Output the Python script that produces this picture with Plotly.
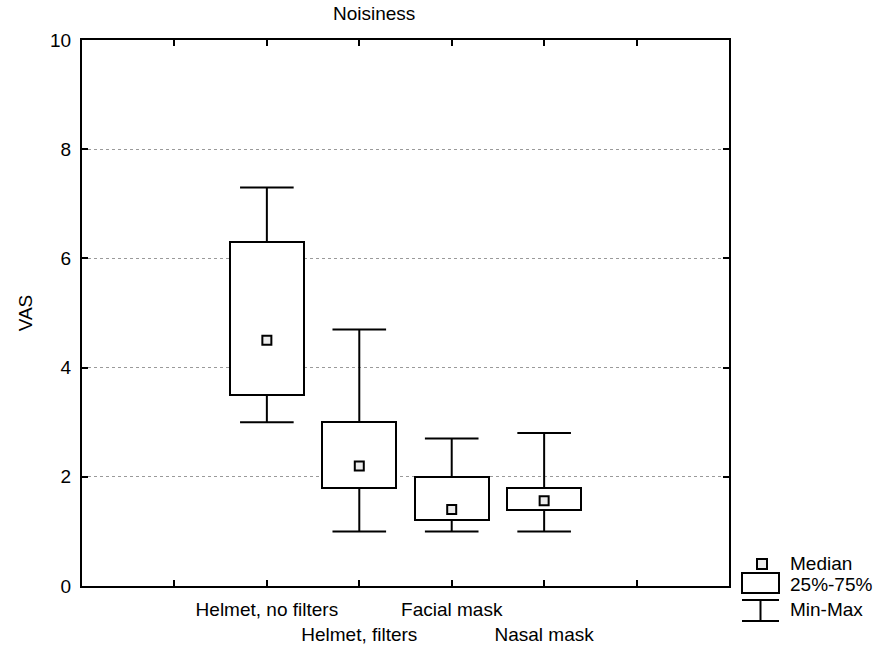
import plotly.graph_objects as go

categories = ["Helmet, no filters", "Helmet, filters", "Facial mask", "Nasal mask"]
positions = [2, 3, 4, 5]
vmin = [3.0, 1.0, 1.0, 1.0]
q1 = [3.5, 1.8, 1.2, 1.4]
median = [4.5, 2.2, 1.4, 1.56]
q3 = [6.3, 3.0, 2.0, 1.8]
vmax = [7.3, 4.7, 2.7, 2.8]
y_ticks = [0, 2, 4, 6, 8, 10]
x_ticks = [1, 2, 3, 4, 5, 6]

BOX_W = 0.8
CAP_HW = 0.29
FONT = "Liberation Sans, Arial, sans-serif"
FS = 19

fig = go.Figure()

# 25%-75% boxes
fig.add_trace(go.Bar(
    x=positions, y=[b - a for a, b in zip(q1, q3)], base=q1, width=BOX_W,
    marker=dict(color="white", line=dict(color="black", width=2)),
    showlegend=False, hoverinfo="skip"))

# whiskers
wx, wy = [], []
for p, lo, a, b, hi in zip(positions, vmin, q1, q3, vmax):
    wx += [p, p, None, p, p, None, p - CAP_HW, p + CAP_HW, None, p - CAP_HW, p + CAP_HW, None]
    wy += [b, hi, None, lo, a, None, hi, hi, None, lo, lo, None]
fig.add_trace(go.Scatter(x=wx, y=wy, mode="lines",
                         line=dict(color="black", width=2),
                         showlegend=False, hoverinfo="skip"))

# medians
fig.add_trace(go.Scatter(x=positions, y=median, mode="markers",
                         marker=dict(symbol="square", size=9, color="#ececec",
                                     line=dict(color="black", width=2)),
                         showlegend=False))

ticktext = []
for i, v in enumerate(x_ticks):
    if v in positions:
        idx = positions.index(v)
        ticktext.append(categories[idx] if idx % 2 == 0 else "<br>" + categories[idx])
    else:
        ticktext.append("")

fig.update_xaxes(range=[0, 7], tickvals=x_ticks, ticktext=ticktext, tickangle=0,
                 automargin=False, ticklabelstandoff=5,
                 ticks="inside", ticklen=6, tickwidth=2, tickcolor="black",
                 showline=True, linecolor="black", linewidth=2, mirror="ticks",
                 showgrid=False, zeroline=False,
                 tickfont=dict(family=FONT, size=FS, color="black"))
fig.update_yaxes(range=[0, 10], tickvals=y_ticks, automargin=False, ticklabelstandoff=5,
                 ticks="inside", ticklen=6, tickwidth=2, tickcolor="black",
                 showline=True, linecolor="black", linewidth=2, mirror="ticks",
                 showgrid=True, gridcolor="#9a9a9a", griddash="dot", gridwidth=1,
                 zeroline=False,
                 title=dict(text="VAS", font=dict(family=FONT, size=FS, color="black"), standoff=12),
                 tickfont=dict(family=FONT, size=FS, color="black"))

# page-pixel -> paper helpers
def px(xp):
    return (xp - 82) / 647

def py(yp):
    return (586 - yp) / 546

# title
fig.add_annotation(text="Noisiness", xref="paper", yref="paper",
                   x=px(374), y=py(14), showarrow=False,
                   font=dict(family=FONT, size=FS, color="black"),
                   xanchor="center", yanchor="middle")

# custom legend
shapes = []
shapes.append(dict(type="rect", xref="paper", yref="paper",
                   x0=px(757), x1=px(767), y0=py(569), y1=py(559),
                   line=dict(color="black", width=2), fillcolor="#ececec"))
shapes.append(dict(type="rect", xref="paper", yref="paper",
                   x0=px(742), x1=px(779), y0=py(593), y1=py(573),
                   line=dict(color="black", width=2), fillcolor="white"))
shapes.append(dict(type="line", xref="paper", yref="paper",
                   x0=px(742), x1=px(779), y0=py(600), y1=py(600),
                   line=dict(color="black", width=2)))
shapes.append(dict(type="line", xref="paper", yref="paper",
                   x0=px(742), x1=px(779), y0=py(621), y1=py(621),
                   line=dict(color="black", width=2)))
shapes.append(dict(type="line", xref="paper", yref="paper",
                   x0=px(760.5), x1=px(760.5), y0=py(600), y1=py(621),
                   line=dict(color="black", width=2)))
fig.update_layout(shapes=shapes)

for txt, yy in [("Median", 563), ("25%-75%", 584), ("Min-Max", 609)]:
    fig.add_annotation(text=txt, xref="paper", yref="paper", x=px(788), y=py(yy),
                       showarrow=False, xanchor="left", yanchor="middle",
                       font=dict(family=FONT, size=FS, color="black"))

fig.update_layout(width=884, height=645,
                  margin=dict(l=82, r=155, t=40, b=59, autoexpand=False),
                  plot_bgcolor="white", paper_bgcolor="white",
                  bargap=0, showlegend=False, hovermode=False)

fig.write_html("out.html", config={"displayModeBar": False},
               post_script="document.body.style.margin='0px';")
